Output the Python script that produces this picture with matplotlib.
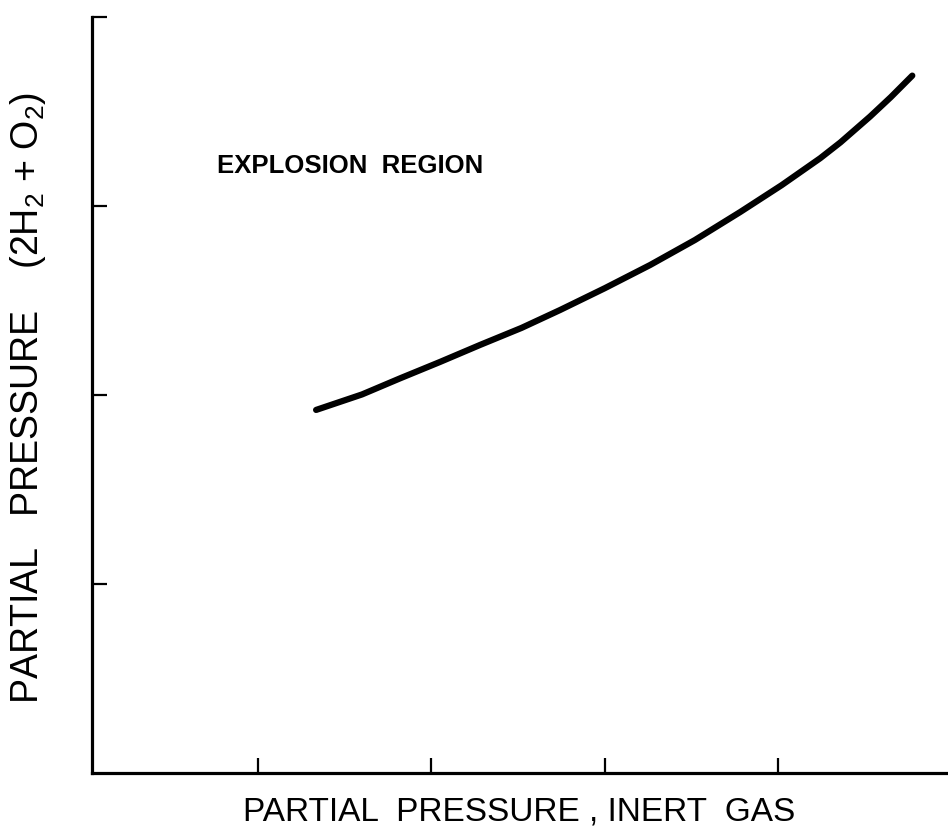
import matplotlib
matplotlib.use("Agg")
import matplotlib.pyplot as plt

plt.rcParams["mathtext.fontset"] = "custom"
plt.rcParams["mathtext.rm"] = "Liberation Sans"
plt.rcParams["mathtext.it"] = "Liberation Sans"
plt.rcParams["mathtext.default"] = "rm"

# Explosion limit of 2H2 + O2 versus inert gas partial pressure
inert_pressure = [1.335, 1.60, 1.819, 2.05, 2.281, 2.52, 2.743, 3.00, 3.262,
                  3.52, 3.781, 4.02, 4.243, 4.36, 4.53, 4.65, 4.774]
mixture_pressure = [1.921, 2.003, 2.088, 2.175, 2.265, 2.355, 2.450, 2.565, 2.688,
                    2.820, 2.968, 3.110, 3.253, 3.337, 3.473, 3.576, 3.690]

x_ticks = [1, 2, 3, 4]
y_ticks = [1, 2, 3, 4]

x_label = "PARTIAL  PRESSURE , INERT  GAS"
y_label = r"PARTIAL   PRESSURE    (2H$_2$ + O$_2$)"
region_label = "EXPLOSION  REGION"

fam = ["Liberation Sans", "DejaVu Sans"]

fig = plt.figure(figsize=(9.48, 8.35), dpi=100)
ax = fig.add_axes([0.097, 0.0743, 0.903, 0.9053])

ax.plot(inert_pressure, mixture_pressure, color="black", linewidth=4.5,
        solid_capstyle="round", solid_joinstyle="round")

ax.set_xlim(0.042, 4.98)
ax.set_ylim(0, 4)
ax.set_xticks(x_ticks)
ax.set_yticks(y_ticks)
ax.set_xticklabels([])
ax.set_yticklabels([])
ax.tick_params(axis="both", direction="in", length=11, width=1.6, color="black")

for side in ("top", "right"):
    ax.spines[side].set_visible(False)
for side in ("left", "bottom"):
    ax.spines[side].set_linewidth(2.3)
    ax.spines[side].set_color("black")

fig.text(0.229, 0.801, region_label, fontsize=18.5, family=fam,
         fontweight="bold", va="center", ha="left")
fig.text(0.548, 0.028, x_label, fontsize=24, family=fam,
         ha="center", va="center")
fig.text(0.030, 0.523, y_label, fontsize=27, family=fam, rotation=90,
         ha="center", va="center")

fig.savefig("out.png", dpi=100, facecolor="white")
